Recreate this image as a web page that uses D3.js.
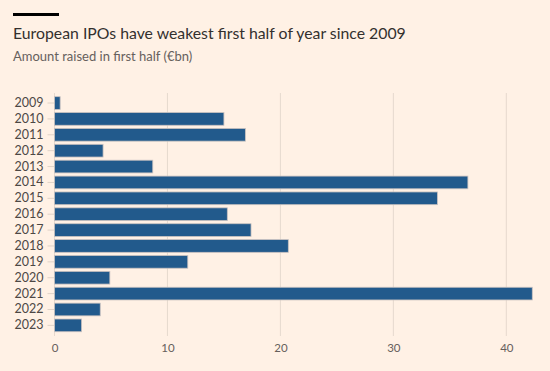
<!DOCTYPE html>
<html><head><meta charset="utf-8">
<script src="https://cdn.jsdelivr.net/npm/d3@7"></script>
<style>
html,body{margin:0;padding:0;background:#fff1e5;}
svg{display:block;}
</style></head>
<body>
<svg id="c" width="550" height="371"></svg>
<script>
const years = ["2009","2010","2011","2012","2013","2014","2015","2016","2017","2018","2019","2020","2021","2022","2023"];
const amounts = [0.5,15.0,16.9,4.3,8.7,36.6,33.9,15.3,17.4,20.7,11.8,4.9,42.3,4.05,2.4];
const xTicks = [0,10,20,30,40];

const svg = d3.select("#c");
svg.append("rect").attr("width",550).attr("height",371).attr("fill","#fff1e5");

svg.append("rect").attr("x",13).attr("y",13).attr("width",46).attr("height",3).attr("fill","#000");
svg.append("text").attr("x",13).attr("y",38.5).attr("font-family","Lato, 'Noto Sans', sans-serif")
  .attr("font-size",15.8).attr("fill","#33302e").text("European IPOs have weakest first half of year since 2009");
svg.append("text").attr("x",13).attr("y",61).attr("font-family","Lato, 'Noto Sans', sans-serif")
  .attr("font-size",13).attr("fill","#66605c").text("Amount raised in first half (€bn)");

const x = d3.scaleLinear().domain([0,40]).range([54.5,506.3]);
const y = d3.scaleBand().domain(years).range([93.5,334.9]).padding(0.2);

const grid = svg.append("g");
grid.selectAll("line").data(xTicks).join("line")
  .attr("x1",d=>x(d)).attr("x2",d=>x(d)).attr("y1",93).attr("y2",336)
  .attr("stroke","#e6d9ce").attr("stroke-width",1);

const yAxis = svg.append("g").attr("transform","translate(54.5,0)")
  .call(d3.axisLeft(y).tickSize(7).tickPadding(4));
yAxis.select(".domain").remove();
yAxis.selectAll(".tick line").attr("stroke","#e0d3c8");
yAxis.selectAll(".tick text").attr("font-family","Lato, 'Noto Sans', sans-serif").attr("font-size",12.5).attr("fill","#4d4845");

svg.append("g").selectAll("rect").data(years).join("rect")
  .attr("x",x(0)).attr("y",d=>y(d))
  .attr("width",(d,i)=>x(amounts[i])-x(0)).attr("height",y.bandwidth())
  .attr("fill","#225a8c").attr("stroke","#c9c2c0").attr("stroke-width",0.8);

const xAxis = svg.append("g").attr("transform","translate(0,336)")
  .call(d3.axisBottom(x).tickValues(xTicks).tickSize(0).tickPadding(8));
xAxis.select(".domain").remove();
xAxis.selectAll(".tick text").attr("font-family","Lato, 'Noto Sans', sans-serif").attr("font-size",11.5).attr("fill","#66605c");

svg.append("text").attr("x",13).attr("y",379).attr("font-family","Lato, 'Noto Sans', sans-serif")
  .attr("font-size",11.5).attr("fill","#66605c").text("Source: LSEG");
</script>
</body></html>
